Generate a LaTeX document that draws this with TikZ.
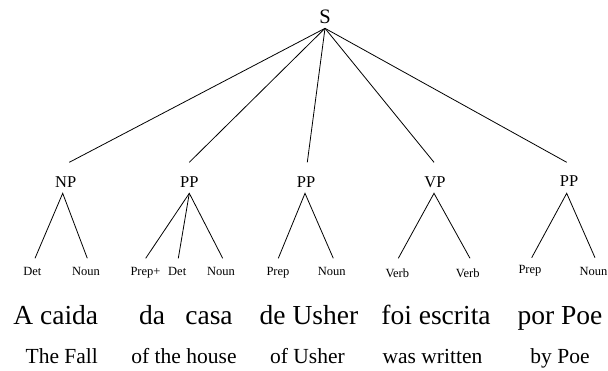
\documentclass[tikz,border=0pt]{standalone}
\usepackage{fontspec}
\setmainfont{Liberation Serif}
\begin{document}
\begin{tikzpicture}[x=1pt,y=-1pt,
  lbl/.style={inner sep=0pt, anchor=base},
  root/.style={lbl, font=\fontsize{20.5}{22}\selectfont},
  phr/.style={lbl, font=\fontsize{16.5}{18}\selectfont},
  cat/.style={lbl, font=\fontsize{12.5}{14}\selectfont},
  big/.style={lbl, font=\fontsize{27.5}{30}\selectfont},
  eng/.style={lbl, font=\fontsize{21.5}{24}\selectfont},
  branch/.style={draw=black, line width=0.8pt}]
\useasboundingbox (0,0) rectangle (608,370);
\fill[white] (0,0) rectangle (608,370);

% root
\node[root] (S) at (325,23.3) {S};
\coordinate (Sa) at (325,28.3);

% phrase labels
\node[phr] (NP)  at (65.7,187.3) {NP};
\node[phr] (PP1) at (189.3,187.3) {PP};
\node[phr] (PP2) at (306,187.3) {PP};
\node[phr] (VP)  at (435,187.3) {VP};
\node[phr] (PP3) at (569,186.5) {PP};

\coordinate (NPt)  at (69.3,162.3);
\coordinate (PP1t) at (189.3,162.3);
\coordinate (PP2t) at (307.3,162.3);
\coordinate (VPt)  at (434,162.3);
\coordinate (PP3t) at (566.7,162.3);

\coordinate (NPa)  at (62.7,193.3);
\coordinate (PP1a) at (189.3,193.3);
\coordinate (PP2a) at (305,193.3);
\coordinate (VPa)  at (434,193.3);
\coordinate (PP3a) at (566.7,193.3);

\foreach \t in {NPt,PP1t,PP2t,VPt,PP3t} \draw[branch] (Sa) -- (\t);

% category labels
\node[cat] (Det1)  at (32.3,275.7) {Det};
\node[cat] (Noun1) at (86,275.7) {Noun};
\node[cat] (Prep1) at (145.5,275.7) {Prep+};
\node[cat] (Det2)  at (177.2,275.7) {Det};
\node[cat] (Noun2) at (221,275.7) {Noun};
\node[cat] (Prep2) at (278,275.7) {Prep};
\node[cat] (Noun3) at (331.7,275.7) {Noun};
\node[cat] (Verb1) at (397.3,277) {Verb};
\node[cat] (Verb2) at (467.7,277) {Verb};
\node[cat] (Prep3) at (530,273.5) {Prep};
\node[cat] (Noun4) at (593.5,275) {Noun};

\coordinate (Det1e)  at (35,258.3);
\coordinate (Noun1e) at (87.3,258.3);
\coordinate (Prep1e) at (145.7,258.3);
\coordinate (Det2e)  at (178.3,258.3);
\coordinate (Noun2e) at (222.7,258.3);
\coordinate (Prep2e) at (278.3,258.3);
\coordinate (Noun3e) at (333.3,258.3);
\coordinate (Verb1e) at (398.3,258.3);
\coordinate (Verb2e) at (470,258.3);
\coordinate (Prep3e) at (531.7,257.7);
\coordinate (Noun4e) at (595,257.7);

\draw[branch] (Det1e) -- (NPa) -- (Noun1e);
\draw[branch] (Prep1e) -- (PP1a) -- (Noun2e);
\draw[branch] (PP1a) -- (Det2e);
\draw[branch] (Prep2e) -- (PP2a) -- (Noun3e);
\draw[branch] (Verb1e) -- (VPa) -- (Verb2e);
\draw[branch] (Prep3e) -- (PP3a) -- (Noun4e);

% Portuguese words
\node[big] (w1) at (55.8,324) {A caida};
\node[big] (w2) at (152,324) {da};
\node[big] (w3) at (209,324) {casa};
\node[big] (w4) at (309,324) {de Usher};
\node[big] (w5) at (436,324) {foi escrita};
\node[big] (w6) at (560,324) {por Poe};

% English glosses
\node[eng] (g1) at (61.8,363.3) {The Fall};
\node[eng] (g2) at (184,363.3) {of the house};
\node[eng] (g3) at (307.5,363.3) {of Usher};
\node[eng] (g4) at (432.5,363.3) {was written};
\node[eng] (g5) at (560,363.3) {by Poe};
\end{tikzpicture}
\end{document}
